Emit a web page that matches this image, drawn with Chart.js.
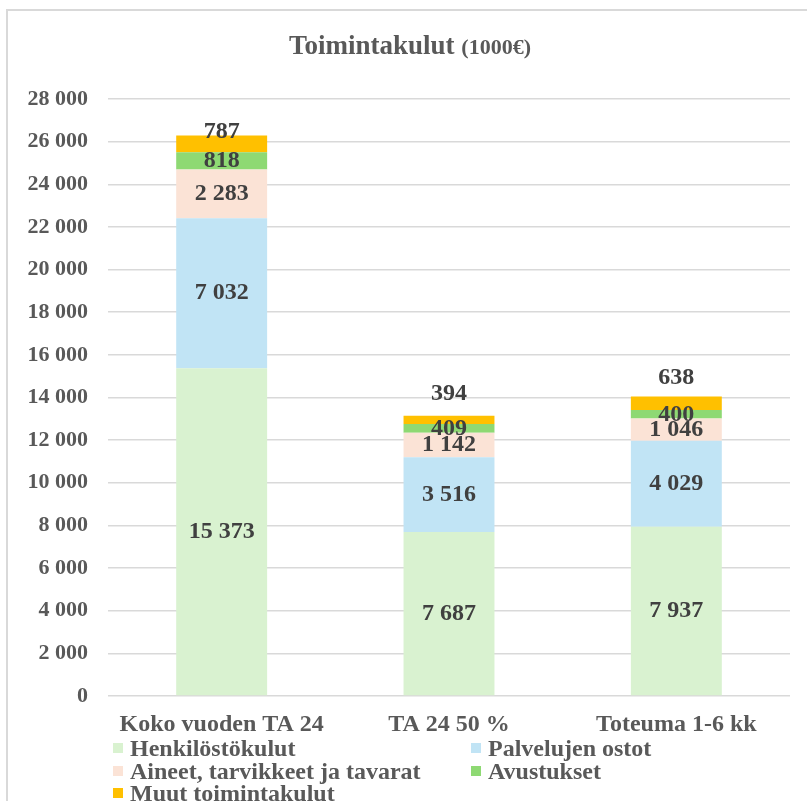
<!DOCTYPE html>
<html>
<head>
<meta charset="utf-8">
<script src="https://cdn.jsdelivr.net/npm/chart.js@4.4.1/dist/chart.umd.min.js"></script>
<style>
  html, body { margin: 0; padding: 0; background: #fff; }
  #wrap { width: 807px; height: 801px; position: relative; }
</style>
</head>
<body>
<div id="wrap"><canvas id="chartKulut"></canvas></div>
<script>
var categories = ['Koko vuoden TA 24', 'TA 24 50 %', 'Toteuma 1-6 kk'];
var seriesNames = ['Henkilöstökulut', 'Palvelujen ostot', 'Aineet, tarvikkeet ja tavarat', 'Avustukset', 'Muut toimintakulut'];
var henkilostokulut = [15373, 7687, 7937];
var palvelujenOstot = [7032, 3516, 4029];
var aineet = [2283, 1142, 1046];
var avustukset = [818, 409, 400];
var muut = [787, 394, 638];
var yMax = 28000;
var yStep = 2000;

var serif = '"Liberation Serif", "Times New Roman", serif';
var colors = ['#d9f2d0', '#c1e4f5', '#fbe3d6', '#8ed973', '#ffc000'];

function fmt(v) {
    return String(v).replace(/\B(?=(\d{3})+(?!\d))/g, ' ');
}

// frame + title
var framePlugin = {
    id: 'framePlugin',
    beforeDraw: function(chart) {
        var ctx = chart.ctx;
        ctx.save();
        ctx.fillStyle = '#fff';
        ctx.fillRect(0, 0, chart.width, chart.height);
        ctx.strokeStyle = '#d9d9d9';
        ctx.lineWidth = 2;
        ctx.strokeRect(7, 10, 900, 900);
        ctx.restore();
    },
    afterDraw: function(chart) {
        var ctx = chart.ctx;
        ctx.save();
        ctx.fillStyle = '#595959';
        ctx.textBaseline = 'alphabetic';
        var t1 = 'Toimintakulut', t2 = '(1000€)';
        ctx.font = 'bold 27px ' + serif;
        var w1 = ctx.measureText(t1 + ' ').width;
        ctx.font = 'bold 22px ' + serif;
        var w2 = ctx.measureText(t2).width;
        var x = 410 - (w1 + w2) / 2;
        ctx.font = 'bold 27px ' + serif;
        ctx.fillText(t1, x, 54);
        ctx.font = 'bold 22px ' + serif;
        ctx.fillText(t2, x + w1, 54);
        ctx.restore();
    }
};

// value labels inside the segments
var muutOffsets = [-4, -22, -19];
var labelPlugin = {
    id: 'labelPlugin',
    afterDatasetsDraw: function(chart) {
        var ctx = chart.ctx;
        ctx.save();
        ctx.font = 'bold 24px ' + serif;
        ctx.fillStyle = '#404040';
        ctx.textAlign = 'center';
        ctx.textBaseline = 'middle';
        chart.data.datasets.forEach(function(ds, i) {
            var meta = chart.getDatasetMeta(i);
            meta.data.forEach(function(bar, j) {
                var y = (bar.y + bar.base) / 2;
                if (i == chart.data.datasets.length - 1) {
                    y = bar.y + muutOffsets[j];
                }
                ctx.fillText(fmt(ds.data[j]), bar.x, y);
            });
        });
        ctx.restore();
    }
};

// two-column legend at the bottom
var legendPlugin = {
    id: 'legendPlugin',
    afterDraw: function(chart) {
        var ctx = chart.ctx;
        var colX = [118, 476];
        var rowY = [749, 772, 794];
        ctx.save();
        ctx.font = 'bold 24px ' + serif;
        ctx.textBaseline = 'middle';
        chart.data.datasets.forEach(function(ds, i) {
            var x = colX[i % 2];
            var y = rowY[Math.floor(i / 2)];
            ctx.fillStyle = ds.backgroundColor;
            ctx.fillRect(x - 5, y - 6, 10, 10);
            ctx.fillStyle = '#595959';
            ctx.fillText(ds.label, x + 12, y + 1);
        });
        ctx.restore();
    }
};

var series = [henkilostokulut, palvelujenOstot, aineet, avustukset, muut];
var datasets = series.map(function(d, i) {
    return {
        label: seriesNames[i],
        data: d,
        backgroundColor: colors[i],
        borderWidth: 0,
        categoryPercentage: 1.0,
        barPercentage: 0.4
    };
});

var chartKulut = new Chart(document.getElementById('chartKulut'), {
    type: 'bar',
    data: {
        labels: categories,
        datasets: datasets
    },
    options: {
        responsive: true,
        maintainAspectRatio: false,
        animation: false,
        layout: {
            padding: { top: 99, right: 17, left: 0, bottom: 0 }
        },
        plugins: {
            legend: { display: false },
            title: { display: false },
            tooltip: { enabled: false }
        },
        scales: {
            x: {
                stacked: true,
                grid: { display: false },
                border: { display: false },
                ticks: {
                    color: '#595959',
                    padding: 6,
                    maxRotation: 0,
                    font: { family: serif, size: 24, weight: 'bold' }
                },
                afterFit: function(scale) { scale.height = 105; }
            },
            y: {
                stacked: true,
                min: 0,
                max: yMax,
                grid: { color: '#d9d9d9', lineWidth: 1.5, drawTicks: false },
                border: { display: false },
                ticks: {
                    stepSize: yStep,
                    color: '#595959',
                    padding: 20,
                    font: { family: serif, size: 22, weight: 'bold' },
                    callback: function(v) { return fmt(v); }
                },
                afterFit: function(scale) { scale.width = 108; }
            }
        }
    },
    plugins: [framePlugin, labelPlugin, legendPlugin]
});
</script>
</body>
</html>
